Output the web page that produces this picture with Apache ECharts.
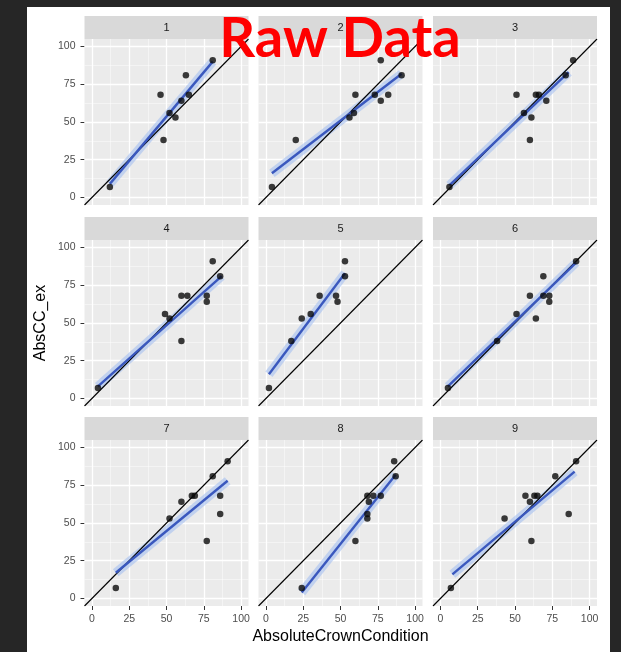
<!DOCTYPE html>
<html>
<head>
<meta charset="utf-8">
<script src="https://cdn.jsdelivr.net/npm/echarts@6/dist/echarts.min.js"></script>
<style>
  html, body { margin: 0; padding: 0; background: #262626; }
  #sheet { position: absolute; left: 27px; top: 7px; width: 583px; height: 645px; background: #ffffff; }
  #chart { position: absolute; left: 0; top: 0; width: 621px; height: 652px; }
</style>
</head>
<body>
<div id="sheet"></div>
<div id="chart"></div>
<script>
// Facet labels and shared axis settings
const panelNames = ['1', '2', '3', '4', '5', '6', '7', '8', '9'];
const tickValues = [0, 25, 50, 75, 100];
const minorValues = [12.5, 37.5, 62.5, 87.5];
const axisRange = [-5, 105];

// Observations per facet: [AbsoluteCrownCondition, AbsCC_ex]
const points1 = [[12, 7], [46, 68], [63, 81], [48, 38], [56, 53], [52, 56], [60, 64], [65, 68], [81, 91]];
const points2 = [[4, 7], [20, 38], [56, 53], [59, 56], [60, 68], [73, 68], [77, 91], [77, 64], [82, 68], [91, 81]];
const points3 = [[6, 7], [51, 68], [64, 68], [66, 68], [71, 64], [56, 56], [61, 53], [60, 38], [84, 81], [89, 91]];
const points4 = [[4, 7], [49, 56], [52, 53], [60, 68], [64, 68], [60, 38], [77, 68], [77, 64], [81, 91], [86, 81]];
const points5 = [[2, 7], [17, 38], [24, 53], [30, 56], [36, 68], [47, 68], [48, 64], [53, 91], [53, 81]];
const points6 = [[5, 7], [38, 38], [51, 56], [60, 68], [69, 81], [64, 53], [69, 68], [73, 68], [73, 64], [91, 91]];
const points7 = [[16, 7], [52, 53], [60, 64], [67, 68], [69, 68], [81, 81], [91, 91], [86, 68], [86, 56], [77, 38]];
const points8 = [[24, 7], [60, 38], [68, 56], [68, 53], [68, 68], [69, 64], [72, 68], [77, 68], [86, 91], [87, 81]];
const points9 = [[7, 7], [43, 53], [61, 38], [57, 68], [60, 64], [63, 68], [65, 68], [77, 81], [91, 91], [86, 56]];

// Linear fit per facet: start and end of the fitted line
const fit1 = [[12, 9], [81, 90]];
const fit2 = [[4, 16], [91, 82]];
const fit3 = [[6, 8], [86, 83]];
const fit4 = [[4, 8], [87, 81]];
const fit5 = [[2, 16], [53, 83]];
const fit6 = [[5, 8], [91, 90]];
const fit7 = [[16, 17], [91, 78]];
const fit8 = [[24, 4], [87, 82]];
const fit9 = [[8, 16], [90, 84]];

const allPoints = [points1, points2, points3, points4, points5, points6, points7, points8, points9];
const allFits = [fit1, fit2, fit3, fit4, fit5, fit6, fit7, fit8, fit9];

// Layout
const colLeft = [84.5, 258.5, 433];
const rowTop = [39, 240, 440];
const panelW = 164;
const panelH = 166;
const stripH = 23;
const fontFamily = '"Liberation Sans", Arial, sans-serif';

const grids = [], xAxes = [], yAxes = [], series = [], graphics = [];

function gridLines(values) {
  const out = [];
  values.forEach(v => {
    out.push({ coords: [[v, axisRange[0]], [v, axisRange[1]]] });
    out.push({ coords: [[axisRange[0], v], [axisRange[1], v]] });
  });
  return out;
}

// hidden axis line (keeps ticks visible), ticks and labels only on outer panels
function axisConfig(i, showOuter, margin) {
  return {
    gridIndex: i, type: 'value', min: axisRange[0], max: axisRange[1],
    axisLine: { show: showOuter, onZero: false, lineStyle: { color: 'rgba(0,0,0,0)' } },
    splitLine: { show: false },
    axisTick: { show: showOuter, customValues: tickValues, length: 4, lineStyle: { color: '#333333', width: 1 } },
    axisLabel: { show: showOuter, customValues: tickValues, color: '#4D4D4D', fontSize: 10.5, margin, fontFamily }
  };
}

for (let i = 0; i < 9; i++) {
  const r = Math.floor(i / 3), c = i % 3;
  grids.push({
    left: colLeft[c], top: rowTop[r], width: panelW, height: panelH,
    show: true, backgroundColor: '#EBEBEB', borderWidth: 0
  });
  xAxes.push(axisConfig(i, r === 2, 8));
  yAxes.push(axisConfig(i, c === 0, 9));

  // minor and major grid lines
  series.push({
    type: 'lines', coordinateSystem: 'cartesian2d', xAxisIndex: i, yAxisIndex: i,
    silent: true, z: 1, data: gridLines(minorValues),
    lineStyle: { color: '#FFFFFF', width: 0.6, opacity: 0.75 }
  });
  series.push({
    type: 'lines', coordinateSystem: 'cartesian2d', xAxisIndex: i, yAxisIndex: i,
    silent: true, z: 1, data: gridLines(tickValues),
    lineStyle: { color: '#FFFFFF', width: 1.3, opacity: 1 }
  });

  // identity line y = x
  series.push({
    type: 'line', xAxisIndex: i, yAxisIndex: i, silent: true, z: 3,
    data: [[axisRange[0], axisRange[0]], [axisRange[1], axisRange[1]]],
    symbol: 'none', lineStyle: { color: '#000000', width: 1.1 }, clip: true
  });

  // confidence band around the fit
  series.push({
    type: 'line', xAxisIndex: i, yAxisIndex: i, silent: true, z: 2,
    data: allFits[i], symbol: 'none',
    lineStyle: { color: 'rgba(165,192,240,0.6)', width: 9, cap: 'butt' }
  });
  // fitted line
  series.push({
    type: 'line', xAxisIndex: i, yAxisIndex: i, silent: true, z: 4,
    data: allFits[i], symbol: 'none',
    lineStyle: { color: '#3A58BE', width: 2.4 }
  });
  // observations
  series.push({
    type: 'scatter', xAxisIndex: i, yAxisIndex: i, silent: true, z: 5,
    data: allPoints[i], symbolSize: 6.5,
    itemStyle: { color: '#0A0A0A' }
  });

  // facet strip
  graphics.push({
    type: 'rect', silent: true,
    shape: { x: colLeft[c], y: rowTop[r] - stripH, width: panelW, height: stripH },
    style: { fill: '#D9D9D9' }
  });
  graphics.push({
    type: 'text', silent: true,
    style: {
      text: panelNames[i], x: colLeft[c] + panelW / 2, y: rowTop[r] - stripH / 2,
      align: 'center', verticalAlign: 'middle', fill: '#1A1A1A',
      fontSize: 11, fontFamily: 'Liberation Sans'
    }
  });
}

// axis titles
graphics.push({
  type: 'text', silent: true,
  style: {
    text: 'AbsoluteCrownCondition', x: colLeft[1] + panelW / 2, y: 637,
    align: 'center', verticalAlign: 'middle', fill: '#000000',
    fontSize: 16, fontFamily: 'Liberation Sans'
  }
});
graphics.push({
  type: 'text', silent: true, x: 41, y: rowTop[1] + panelH / 2, rotation: Math.PI / 2,
  style: {
    text: 'AbsCC_ex', x: 0, y: 0,
    align: 'center', verticalAlign: 'middle', fill: '#000000',
    fontSize: 16, fontFamily: 'Liberation Sans'
  }
});
// headline
graphics.push({
  type: 'text', silent: true, z: 100,
  style: {
    text: 'Raw Data', x: 340, y: 39,
    align: 'center', verticalAlign: 'middle', fill: '#FF0000',
    fontSize: 56, fontWeight: 'bold', fontFamily: 'Lato'
  }
});

const chart = echarts.init(document.getElementById('chart'), null, { renderer: 'canvas' });
chart.setOption({
  backgroundColor: 'transparent',
  animation: false,
  grid: grids,
  xAxis: xAxes,
  yAxis: yAxes,
  series: series,
  graphic: { elements: graphics }
});
</script>
</body>
</html>
